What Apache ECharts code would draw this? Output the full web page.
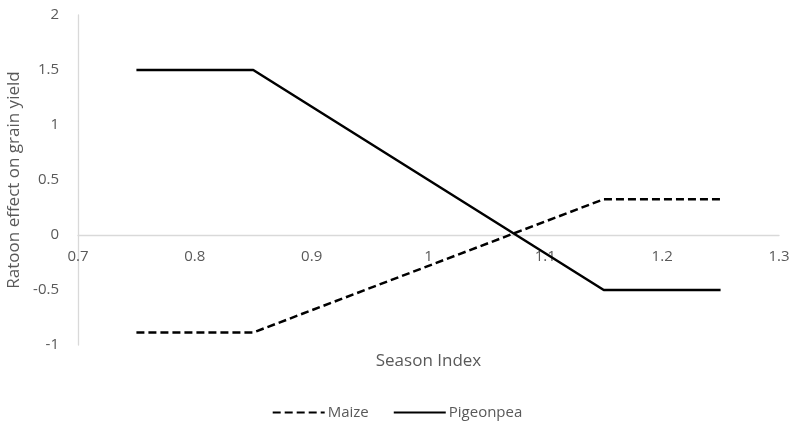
<!DOCTYPE html>
<html>
<head>
<meta charset="utf-8">
<script src="https://cdn.jsdelivr.net/npm/echarts@6/dist/echarts.min.js"></script>
<style>html,body{margin:0;padding:0;background:#fff;}#c{width:794px;height:428px;}</style>
</head>
<body>
<div id="c"></div>
<script>
const seasonIndex = [0.75, 0.85, 1.15, 1.25];
const maize = [-0.886, -0.886, 0.325, 0.325];
const pigeonpea = [1.5, 1.5, -0.5, -0.5];
const seriesNames = ['Maize', 'Pigeonpea'];
const xTitle = 'Season Index';
const yTitle = 'Ratoon effect on grain yield';

const FONT = 'Open Sans';
const GRAY = '#595959';
const fmt = v => String(Math.round(v * 10) / 10);

const gridTop = 15, gridBottom = 83, H = 428;
const plotH = H - gridTop - gridBottom;
const yMin = -1, yMax = 2;
const zeroOffset = plotH * (0 - yMin) / (yMax - yMin);

const chart = echarts.init(document.getElementById('c'), null, {renderer: 'canvas'});
chart.setOption({
  animation: false,
  backgroundColor: '#fff',
  textStyle: {fontFamily: FONT},
  grid: {left: 78, right: 15, top: gridTop, bottom: gridBottom, containLabel: false, outerBoundsMode: 'none'},
  xAxis: {
    type: 'value', min: 0.7, max: 1.3, interval: 0.1,
    position: 'bottom', offset: -zeroOffset,
    name: xTitle, nameLocation: 'middle', nameGap: 118,
    nameTextStyle: {color: GRAY, fontSize: 17, fontFamily: FONT},
    axisLine: {show: true, onZero: false, lineStyle: {color: '#d9d9d9', width: 1.3}},
    axisTick: {show: false},
    splitLine: {show: false},
    axisLabel: {color: GRAY, fontSize: 15, fontFamily: FONT, margin: 14, formatter: fmt}
  },
  yAxis: {
    type: 'value', min: yMin, max: yMax, interval: 0.5,
    name: yTitle, nameLocation: 'middle', nameGap: 53,
    nameTextStyle: {color: GRAY, fontSize: 17, fontFamily: FONT},
    axisLine: {show: true, onZero: false, lineStyle: {color: '#d9d9d9', width: 1.3}},
    axisTick: {show: false},
    splitLine: {show: false},
    axisLabel: {color: GRAY, fontSize: 15, fontFamily: FONT, margin: 19, formatter: fmt}
  },
  legend: {
    bottom: 3, left: 'center', itemWidth: 52, itemHeight: 12, itemGap: 24,
    itemStyle: {opacity: 0},
    textStyle: {color: GRAY, fontSize: 15, fontFamily: FONT, padding: [0, 0, 0, -2]},
    data: seriesNames
  },
  series: [
    {name: seriesNames[0], type: 'line', symbol: 'none', data: seasonIndex.map((x, i) => [x, maize[i]]),
     lineStyle: {color: '#000', width: 2.5, type: [8, 4]}, itemStyle: {color: '#000'}},
    {name: seriesNames[1], type: 'line', symbol: 'none', data: seasonIndex.map((x, i) => [x, pigeonpea[i]]),
     lineStyle: {color: '#000', width: 2.5, type: 'solid'}, itemStyle: {color: '#000'}}
  ]
});
</script>
</body>
</html>
